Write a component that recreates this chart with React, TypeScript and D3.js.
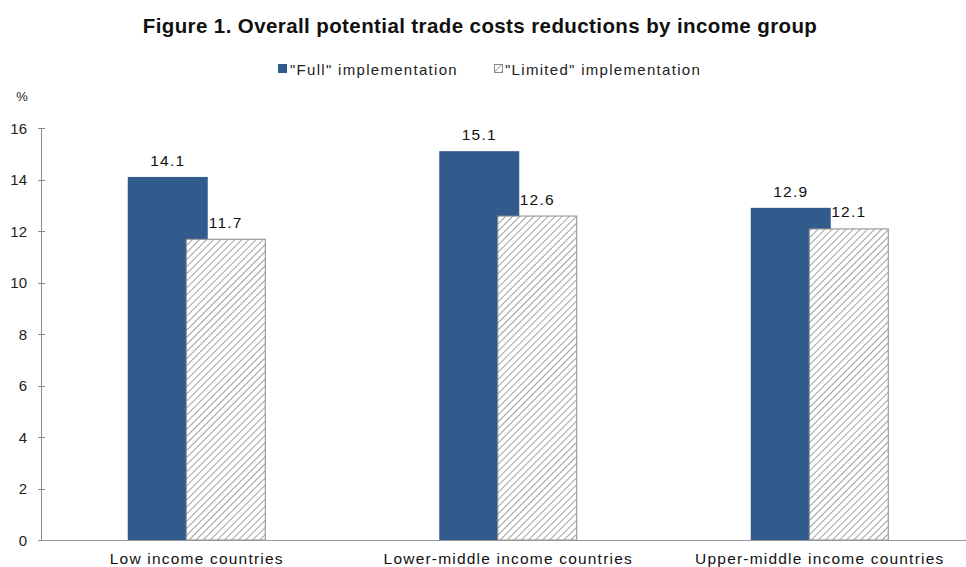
import React from "react";
import * as d3 from "d3";

const categories = ["Low income countries", "Lower-middle income countries", "Upper-middle income countries"];
const fullValues = [14.1, 15.1, 12.9];
const limitedValues = [11.7, 12.6, 12.1];
const yTicks = [0, 2, 4, 6, 8, 10, 12, 14, 16];
const seriesNames = ['"Full" implementation', '"Limited" implementation'];

const W = 966;
const H = 567;
const FONT = "'Liberation Sans', Arial, sans-serif";

export default function App() {
  const x0 = 41;
  const band = 311.5;
  const x = d3.scaleBand<string>().domain(categories).range([x0, x0 + band * 3]).paddingInner(0).paddingOuter(0);
  const y = d3.scaleLinear().domain([0, 16]).range([540, 128]);
  const barW = 80;
  const offset = 58;
  const groupW = offset + barW;
  const blue = "#325b8d";

  return (
    <div style={{ position: "absolute", left: 0, top: 0, width: W, height: H, overflow: "hidden" }}>
      <svg width={W} height={H} style={{ display: "block", background: "#fff" }} fontFamily={FONT}>
        <defs>
          <pattern id="hatch" patternUnits="userSpaceOnUse" width="5" height="5" patternTransform="rotate(45)">
            <rect width="5" height="5" fill="#fff" />
            <line x1="0" y1="0" x2="0" y2="5" stroke="#8a8a8a" strokeWidth="1.6" />
          </pattern>
        </defs>
        <text x={480} y={33} textAnchor="middle" fontWeight="bold" fontSize={20.5} letterSpacing={0.4} fill="#111">
          Figure 1. Overall potential trade costs reductions by income group
        </text>
        {/* legend */}
        <rect x={278} y={64} width={9} height={9} fill={blue} />
        <text x={290} y={75} fontSize={15} letterSpacing={1.3} fill="#222">{seriesNames[0]}</text>
        <rect x={494.5} y={64.5} width={8} height={8} fill="url(#hatch)" stroke="#888" strokeWidth={1} />
        <text x={505} y={75} fontSize={15} letterSpacing={1.3} fill="#222">{seriesNames[1]}</text>

        <text x={22} y={101} textAnchor="middle" fontSize={13} fill="#222">%</text>

        {/* y axis */}
        <line x1={41.5} y1={y(16)} x2={41.5} y2={y(0)} stroke="#888" />
        {yTicks.map((t) => (
          <g key={t}>
            <line x1={38} x2={45} y1={Math.round(y(t)) + 0.5} y2={Math.round(y(t)) + 0.5} stroke="#888" />
            <text x={27} y={y(t) + 5.5} textAnchor="end" fontSize={15} fill="#222">{t}</text>
          </g>
        ))}

        {categories.map((c, i) => {
          const cx = (x(c) as number) + x.bandwidth() / 2;
          const left = cx - groupW / 2;
          const fy = y(fullValues[i]);
          const ly = y(limitedValues[i]);
          return (
            <g key={c}>
              <rect x={left} y={fy} width={barW} height={y(0) - fy} fill={blue} />
              <rect x={left + offset + 0.5} y={ly + 0.5} width={barW - 1} height={y(0) - ly - 0.5} fill="url(#hatch)" stroke="#8a8a8a" strokeWidth={1} />
              <text x={left + barW / 2} y={fy - 11} textAnchor="middle" fontSize={15.5} letterSpacing={1.2} fill="#111">{fullValues[i].toFixed(1)}</text>
              <text x={left + offset + barW / 2} y={ly - 11} textAnchor="middle" fontSize={15.5} letterSpacing={1.2} fill="#111">{limitedValues[i].toFixed(1)}</text>
              <text x={cx} y={564} textAnchor="middle" fontSize={15.5} letterSpacing={1.2} fill="#111">{c}</text>
            </g>
          );
        })}

        {/* x axis */}
        <line x1={41} x2={W} y1={540.5} y2={540.5} stroke="#999" />
      </svg>
    </div>
  );
}
